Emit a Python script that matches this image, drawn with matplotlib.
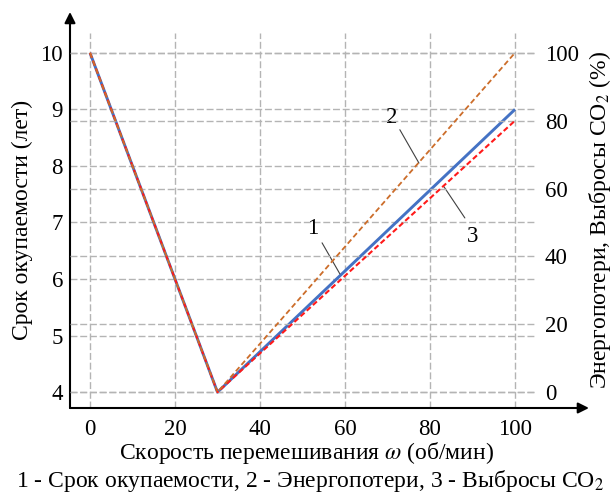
import numpy as np
import matplotlib
matplotlib.use("Agg")
import matplotlib.pyplot as plt

plt.rcParams['font.family'] = ['Liberation Serif', 'DejaVu Serif']
plt.rcParams['mathtext.fontset'] = 'stix'

# ---- data ----
omega = [0, 30, 100]          # об/мин
payback = [10, 4, 9]          # лет (left axis)
energy = [100, 0, 100]        # % (right axis)
co2 = [100, 0, 80]            # % (right axis)
x_ticks = [0, 20, 40, 60, 80, 100]
y_ticks = [4, 5, 6, 7, 8, 9, 10]
y2_ticks = [0, 20, 40, 60, 80, 100]

FS = 16.5
LFS = 17
GRID = dict(color="#b4b4b4", linestyle=(0, (5, 2)), linewidth=1.0)

fig = plt.figure(figsize=(6.12, 4.97), dpi=100)
ax = fig.add_axes([70/612, 1-408/497, 465/612, 375/497])
ax2 = ax.twinx()

ax.set_xlim(-4.7, 104.7)
ax.set_ylim(3.72, 10.35)
y0, y1 = ax.get_ylim()
ax2.set_ylim((y0 - 4) * 100 / 6, (y1 - 4) * 100 / 6)

for a in (ax, ax2):
    for s in a.spines.values():
        s.set_visible(False)

ax.set_xticks(x_ticks)
ax.set_yticks(y_ticks)
ax2.set_yticks(y2_ticks)
ax.tick_params(axis="y", length=0, labelsize=FS, pad=5)
ax.tick_params(axis="x", length=0, labelsize=FS, pad=8)
ax2.tick_params(length=0, labelsize=FS, pad=7)
ax.grid(True, **GRID)
ax2.grid(True, axis="y", **GRID)
ax.set_axisbelow(True)

ax.plot(omega, payback, color="#4472c4", lw=2.1, solid_capstyle="butt", zorder=3)
ax2.plot(omega, co2, color="#ff1a1a", lw=1.5, linestyle=(0, (2.6, 1.4)), zorder=3)
ax2.plot(omega, energy, color="#cc6d2a", lw=1.3, linestyle=(0, (3, 1.7)), zorder=4)

# axis arrows
arrow = dict(arrowstyle="-|>", color="black", lw=1.5, mutation_scale=16,
             shrinkA=0, shrinkB=0)
ax.annotate("", xy=(0, 1.056), xytext=(0, 0), xycoords="axes fraction",
            textcoords="axes fraction", arrowprops=arrow, annotation_clip=False)
ax.annotate("", xy=(1.116, 0), xytext=(0, 0), xycoords="axes fraction",
            textcoords="axes fraction", arrowprops=arrow, annotation_clip=False)

# curve labels with leader lines
lead = dict(arrowstyle="-", color="#404040", lw=0.8, shrinkA=0, shrinkB=0)
ax.annotate("", xy=(58.8, 6.09), xytext=(54.6, 6.64), arrowprops=lead)
ax.text(52.5, 6.90, "1", fontsize=FS, ha="center", va="center")
ax.annotate("", xy=(77.4, 8.05), xytext=(72.9, 8.64), arrowprops=lead)
ax.text(71.1, 8.85, "2", fontsize=FS, ha="center", va="center")
ax.annotate("", xy=(83.3, 7.63), xytext=(88.2, 7.08), arrowprops=lead)
ax.text(90.1, 6.76, "3", fontsize=FS, ha="center", va="center")

fig.text(22/612, 1-220/497, "Срок окупаемости (лет)", rotation=90,
         fontsize=LFS, ha="center", va="center")
fig.text(600/612, 1-220/497, "Энергопотери, Выбросы CO$_2$ (%)", rotation=90,
         fontsize=LFS, ha="center", va="center")
fig.text(307/612, 1-453/497, r"Скорость перемешивания $\omega$ (об/мин)",
         fontsize=LFS, ha="center", va="center")
fig.text(310/612, 1-481/497, "1 - Срок окупаемости, 2 - Энергопотери, 3 - Выбросы CO$_2$",
         fontsize=LFS, ha="center", va="center")

fig.savefig("out.png", dpi=100)
